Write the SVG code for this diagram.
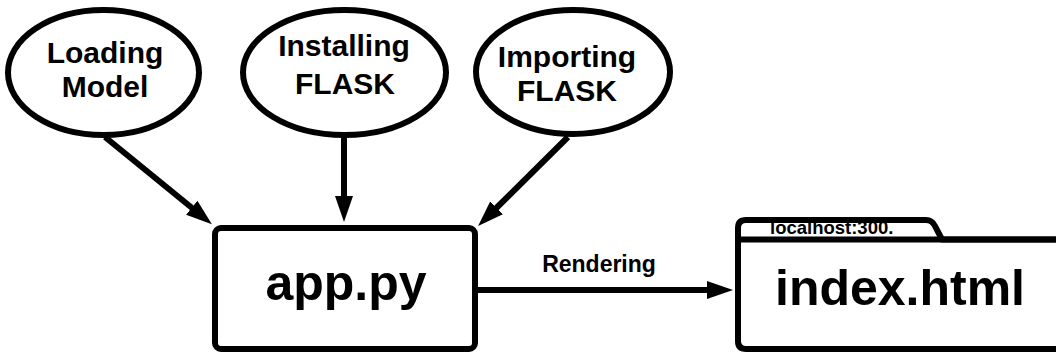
<svg xmlns="http://www.w3.org/2000/svg" width="1056" height="353" viewBox="0 0 1056 353">
  <style>
    .shape { fill: #ffffff; stroke: #000000; stroke-width: 6; }
    .lbl { font-family: "Liberation Sans", Arial, sans-serif; font-weight: bold; fill: #000000; text-anchor: middle; }
    .edge { fill: none; stroke: #000000; stroke-width: 6; marker-end: url(#arrow); }
  </style>
  <defs>
    <marker id="arrow" markerUnits="userSpaceOnUse" markerWidth="26" markerHeight="18" refX="6" refY="9" orient="auto" viewBox="0 0 26 18">
      <path d="M0,0 L26,9 L0,18 z" fill="#000000"/>
    </marker>
  </defs>
  <rect width="1056" height="353" fill="#ffffff"/>

  <g id="connectors">
    <path class="edge" d="M105,137 L196.4,211.5"/>
    <path class="edge" d="M344,138 L344,202"/>
    <path class="edge" d="M568,137 L492.3,212"/>
    <path class="edge" d="M478,290 L713,290"/>
    <text class="lbl" x="599" y="272" font-size="23">Rendering</text>
  </g>

  <g id="loading-model">
    <ellipse class="shape" cx="103.5" cy="72.5" rx="95.5" ry="62.5"/>
    <text class="lbl" x="105" y="63" font-size="30">Loading</text>
    <text class="lbl" x="105" y="97" font-size="30">Model</text>
  </g>

  <g id="installing-flask">
    <ellipse class="shape" cx="344.5" cy="72.5" rx="101.5" ry="62.5"/>
    <text class="lbl" x="344" y="56" font-size="30">Installing</text>
    <text class="lbl" x="345" y="94" font-size="30">FLASK</text>
  </g>

  <g id="importing-flask">
    <ellipse class="shape" cx="573" cy="72" rx="97" ry="62"/>
    <text class="lbl" x="567" y="67" font-size="30">Importing</text>
    <text class="lbl" x="567" y="101" font-size="30">FLASK</text>
  </g>

  <g id="app-py">
    <rect class="shape" x="215" y="228" width="260" height="121" rx="6" ry="6"/>
    <text class="lbl" x="346" y="300" font-size="50">app.py</text>
  </g>

  <g id="index-html">
    <path class="shape" d="M1062,239.5 L1062,349 L746,349 Q738,349 738,341 L738,239.5 Z"/>
    <text class="lbl" x="770" y="234" font-size="18.5" style="text-anchor:start">localhost:300.</text>
    <path fill="none" stroke="#000000" stroke-width="6" stroke-linejoin="round" d="M738,239.5 L738,228 Q738,220 746,220 L926,220 Q932,220 935,226 L942,239.5 L1062,239.5"/>
    <text class="lbl" x="900" y="305" font-size="50">index.html</text>
  </g>
</svg>
